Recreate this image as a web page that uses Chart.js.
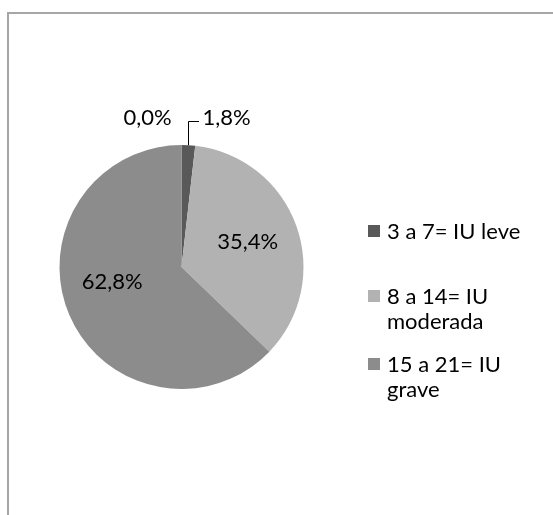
<!DOCTYPE html>
<html>
<head>
<meta charset="utf-8">
<script src="https://cdn.jsdelivr.net/npm/chart.js@4.4.1/dist/chart.umd.min.js"></script>
<style>
  html, body { margin: 0; padding: 0; background: #fff; }
  #wrap { position: relative; width: 553px; height: 515px; overflow: hidden; }
  #frame { position: absolute; left: 7px; top: 12px; width: 600px; height: 600px;
           border-left: 2px solid #a6a6a6; border-top: 2px solid #a6a6a6; box-sizing: border-box; }
  #chart { position: absolute; left: 0; top: 0; }
  #legend { position: absolute; left: 368px; top: 218px; width: 160px;
            font-family: Lato, "Open Sans", sans-serif; font-size: 22px; line-height: 25px; color: #000; }
  .item { position: relative; padding-left: 19px; }
  .sw { position: absolute; left: 0; top: 7px; width: 12px; height: 12px; }
</style>
</head>
<body>
<div id="wrap">
  <div id="frame"></div>
  <canvas id="chart" width="553" height="515"></canvas>
  <div id="legend"></div>
</div>
<script>
// Score groups and their shares (%)
const categories = ["3 a 7= IU leve", "8 a 14= IU moderada", "15 a 21= IU grave", "sem IU"];
const shares = [1.8, 35.4, 62.8, 0.0];
const colors = ["#595959", "#b2b2b2", "#8c8c8c", "#d9d9d9"];
const inLegend = [true, true, true, false];

const fmt = v => v.toFixed(1).replace(".", ",") + "%";

// Percent labels: inside for the large slices, outside with a leader for the thin one
const labelTurn = [0, -1, 11, 0]; // degrees of extra turn for inside labels
const labelPlugin = {
  id: "sliceLabels",
  afterDatasetsDraw(chart) {
    const ctx = chart.ctx;
    const meta = chart.getDatasetMeta(0);
    ctx.save();
    ctx.font = '22px Lato, "Open Sans", sans-serif';
    ctx.fillStyle = "#000";
    ctx.textBaseline = "middle";
    meta.data.forEach((arc, i) => {
      const v = shares[i];
      const mid = (arc.startAngle + arc.endAngle) / 2 + labelTurn[i] * Math.PI / 180;
      const r = arc.outerRadius;
      const cx = arc.x, cy = arc.y;
      if (v >= 10) {
        const d = r * 0.58;
        ctx.textAlign = "center";
        ctx.fillText(fmt(v), cx + Math.cos(mid) * d, cy + Math.sin(mid) * d);
      } else if (v > 0) {
        const px = cx + Math.cos(mid) * r, py = cy + Math.sin(mid) * r;
        const ly = cy - r - 24;
        ctx.strokeStyle = "#000";
        ctx.lineWidth = 1;
        ctx.beginPath();
        ctx.moveTo(Math.round(px) + 0.5, py);
        ctx.lineTo(Math.round(px) + 0.5, ly + 0.5);
        ctx.lineTo(Math.round(px) + 11, ly + 0.5);
        ctx.stroke();
        ctx.textAlign = "left";
        ctx.fillText(fmt(v), px + 14, ly - 3);
      } else {
        ctx.textAlign = "center";
        ctx.fillText(fmt(v), cx - 34, cy - r - 27);
      }
    });
    ctx.restore();
  }
};

new Chart(document.getElementById("chart"), {
  type: "pie",
  data: {
    labels: categories,
    datasets: [{ data: shares, backgroundColor: colors, borderWidth: 0 }]
  },
  options: {
    responsive: false,
    animation: false,
    layout: { padding: { left: 59, right: 249, top: 145, bottom: 126 } },
    plugins: { legend: { display: false }, tooltip: { enabled: false } }
  },
  plugins: [labelPlugin]
});

// Legend built from the same category list, one fixed slot per entry
const slotHeights = [65, 68, 68];
const legend = document.getElementById("legend");
let slot = 0;
categories.forEach((name, i) => {
  if (!inLegend[i]) return;
  const it = document.createElement("div");
  it.className = "item";
  it.style.height = slotHeights[slot++] + "px";
  const sw = document.createElement("span");
  sw.className = "sw";
  sw.style.background = colors[i];
  it.appendChild(sw);
  it.appendChild(document.createTextNode(name));
  legend.appendChild(it);
});
</script>
</body>
</html>
